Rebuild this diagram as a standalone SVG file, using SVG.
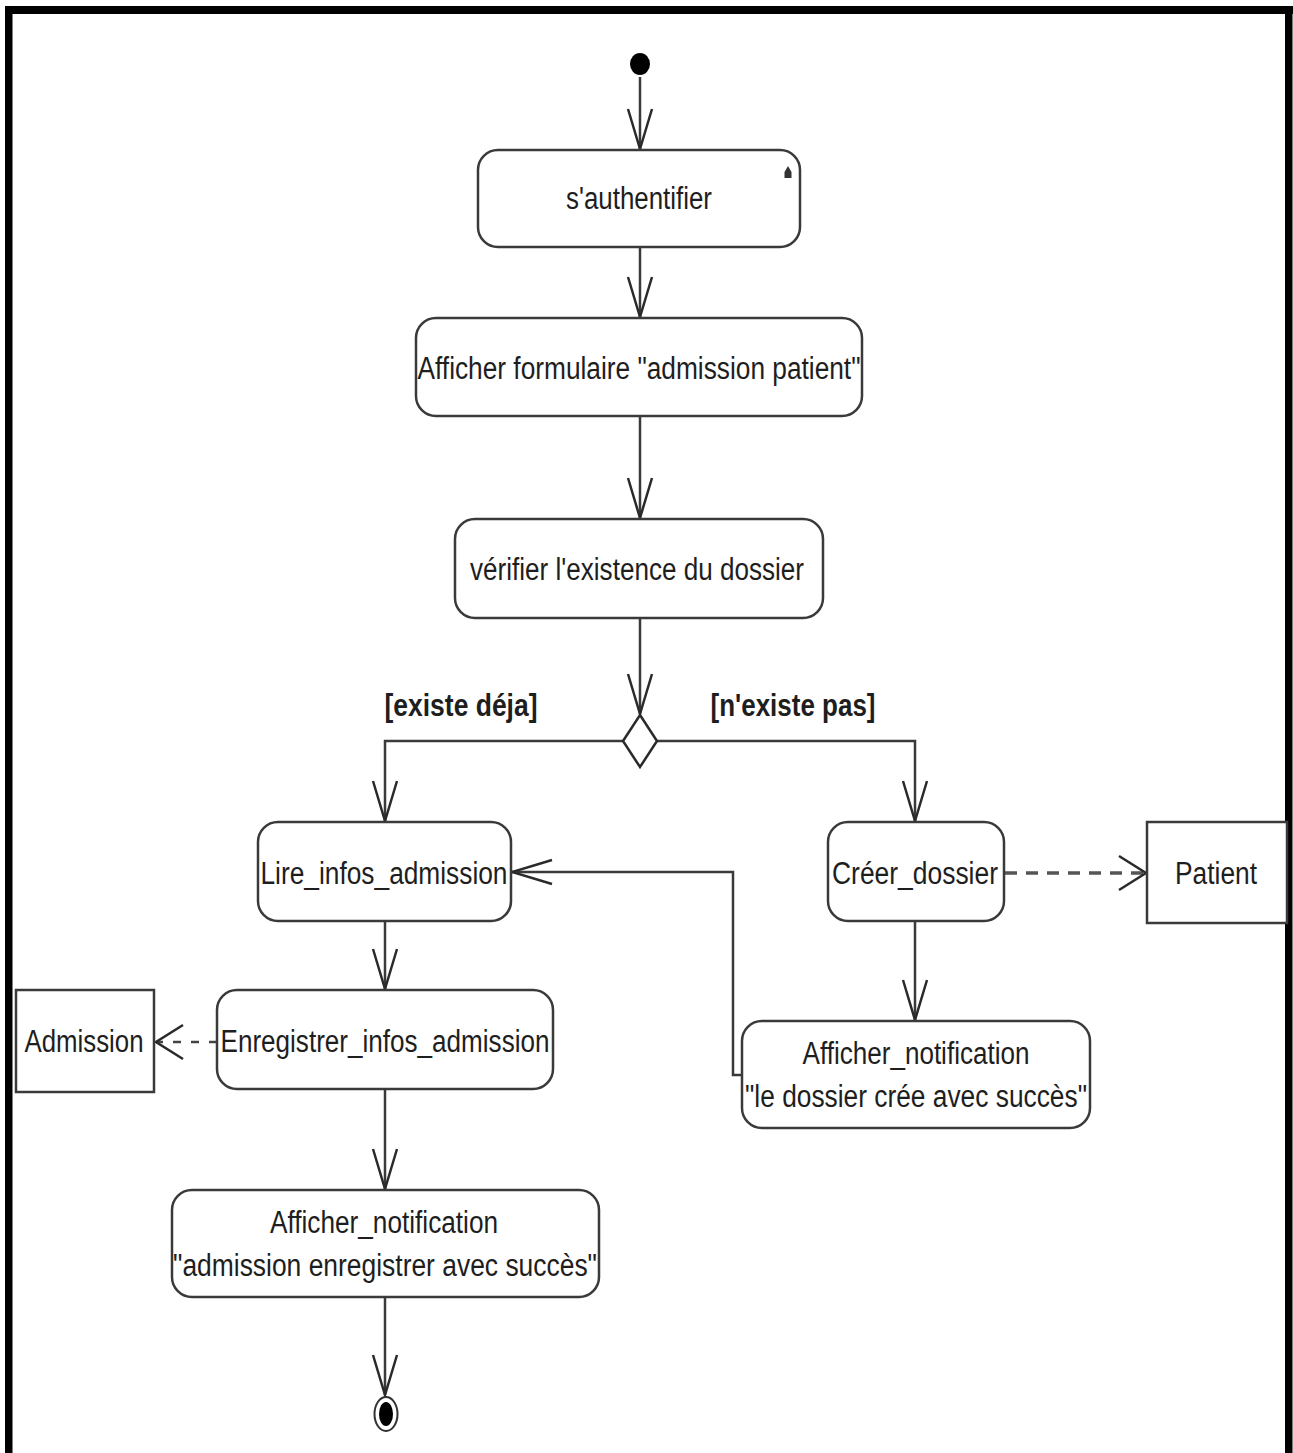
<svg xmlns="http://www.w3.org/2000/svg" width="1293" height="1453" viewBox="0 0 1293 1453">
<style>
.box{fill:#fff;stroke:#3a3a3a;stroke-width:2.5}
.t{font-family:"Liberation Sans",Arial,sans-serif;font-size:31px;fill:#1e1e1e;text-anchor:middle}
.g{font-family:"Liberation Sans",Arial,sans-serif;font-size:32px;font-weight:bold;fill:#1e1e1e;text-anchor:middle}
.c{fill:none;stroke:#3a3a3a;stroke-width:2.5}
.d1{fill:none;stroke:#555;stroke-width:3.5;stroke-dasharray:12 9}
.d2{fill:none;stroke:#444;stroke-width:2.5;stroke-dasharray:8 10}
</style>
<defs>
<marker id="arr" markerUnits="userSpaceOnUse" markerWidth="44" markerHeight="30" viewBox="-42 -15 44 30" refX="0" refY="0" orient="auto" overflow="visible">
<path d="M-40,-12 L0,0 L-40,12" fill="none" stroke="#2a2a2a" stroke-width="2.5"/>
</marker>
<marker id="dep" markerUnits="userSpaceOnUse" markerWidth="34" markerHeight="40" viewBox="-32 -20 34 40" refX="0" refY="0" orient="auto" overflow="visible">
<path d="M-27,-17 L0,0 L-27,17" fill="none" stroke="#2a2a2a" stroke-width="2.5"/>
</marker>
</defs>
<rect width="1293" height="1453" fill="#fff"/>
<g id="frame" fill="#000">
<rect x="5" y="6" width="7.5" height="1447"/>
<rect x="5" y="6" width="1288" height="8"/>
<rect x="1285" y="6" width="7.5" height="1447"/>
</g>
<g id="connectors">
<path class="c" d="M640,77 V149" marker-end="url(#arr)"/>
<path class="c" d="M640,247 V317" marker-end="url(#arr)"/>
<path class="c" d="M640,416 V518" marker-end="url(#arr)"/>
<path class="c" d="M640,618 V714" marker-end="url(#arr)"/>
<path class="c" d="M623,741 H385 V821" marker-end="url(#arr)"/>
<path class="c" d="M657,741 H915 V821" marker-end="url(#arr)"/>
<path class="c" d="M385,921 V989" marker-end="url(#arr)"/>
<path class="c" d="M385,1089 V1189" marker-end="url(#arr)"/>
<path class="c" d="M385,1297 V1395" marker-end="url(#arr)"/>
<path class="c" d="M915,921 V1020" marker-end="url(#arr)"/>
<path class="c" d="M742,1075 H733 V872 H512" marker-end="url(#arr)"/>
<path class="d1" d="M1005,873 H1146" marker-end="url(#dep)"/>
<path class="d2" d="M217,1042 H156" marker-end="url(#dep)"/>
<text class="g" x="461" y="716" textLength="153" lengthAdjust="spacingAndGlyphs">[existe déja]</text>
<text class="g" x="793" y="716" textLength="165" lengthAdjust="spacingAndGlyphs">[n'existe pas]</text>
</g>
<g id="start"><ellipse cx="640" cy="64" rx="10" ry="11" fill="#000"/></g>
<g id="sauthentifier">
<rect class="box" x="478" y="150" width="322" height="97" rx="20"/>
<path d="M784.5,178 V172 L788,166 L791.5,172 V178 Z" fill="#333"/>
<text class="t" x="639" y="209" textLength="146" lengthAdjust="spacingAndGlyphs">s'authentifier</text>
</g>
<g id="afficher_formulaire">
<rect class="box" x="416" y="318" width="446" height="98" rx="20"/>
<text class="t" x="639" y="379" textLength="443" lengthAdjust="spacingAndGlyphs">Afficher formulaire "admission patient"</text>
</g>
<g id="verifier">
<rect class="box" x="455" y="519" width="368" height="99" rx="20"/>
<text class="t" x="637" y="580" textLength="334" lengthAdjust="spacingAndGlyphs">vérifier l'existence du dossier</text>
</g>
<g id="decision"><polygon points="640,715 657,741 640,767 623,741" fill="#fff" stroke="#2a2a2a" stroke-width="2.5"/></g>
<g id="lire">
<rect class="box" x="258" y="822" width="253" height="99" rx="20"/>
<text class="t" x="384" y="884" textLength="247" lengthAdjust="spacingAndGlyphs">Lire_infos_admission</text>
</g>
<g id="creer">
<rect class="box" x="828" y="822" width="176" height="99" rx="20"/>
<text class="t" x="915" y="884" textLength="166" lengthAdjust="spacingAndGlyphs">Créer_dossier</text>
</g>
<g id="patient">
<rect class="box" x="1147" y="822" width="140" height="101"/>
<text class="t" x="1216" y="884" textLength="82" lengthAdjust="spacingAndGlyphs">Patient</text>
</g>
<g id="enregistrer">
<rect class="box" x="217" y="990" width="336" height="99" rx="20"/>
<text class="t" x="385" y="1052" textLength="329" lengthAdjust="spacingAndGlyphs">Enregistrer_infos_admission</text>
</g>
<g id="admission">
<rect class="box" x="16" y="990" width="138" height="102"/>
<text class="t" x="84" y="1052" textLength="119" lengthAdjust="spacingAndGlyphs">Admission</text>
</g>
<g id="notif_dossier">
<rect class="box" x="742" y="1021" width="348" height="107" rx="20"/>
<text class="t" x="916" y="1064" textLength="227" lengthAdjust="spacingAndGlyphs">Afficher_notification</text>
<text class="t" x="916" y="1107" textLength="342" lengthAdjust="spacingAndGlyphs">"le dossier crée avec succès"</text>
</g>
<g id="notif_admission">
<rect class="box" x="172" y="1190" width="427" height="107" rx="20"/>
<text class="t" x="384" y="1233" textLength="228" lengthAdjust="spacingAndGlyphs">Afficher_notification</text>
<text class="t" x="385" y="1276" textLength="424" lengthAdjust="spacingAndGlyphs">"admission enregistrer avec succès"</text>
</g>
<g id="final">
<ellipse cx="386" cy="1414" rx="11.5" ry="17" fill="#fff" stroke="#333" stroke-width="2"/>
<ellipse cx="386" cy="1414" rx="7" ry="12" fill="#000"/>
</g>
</svg>
